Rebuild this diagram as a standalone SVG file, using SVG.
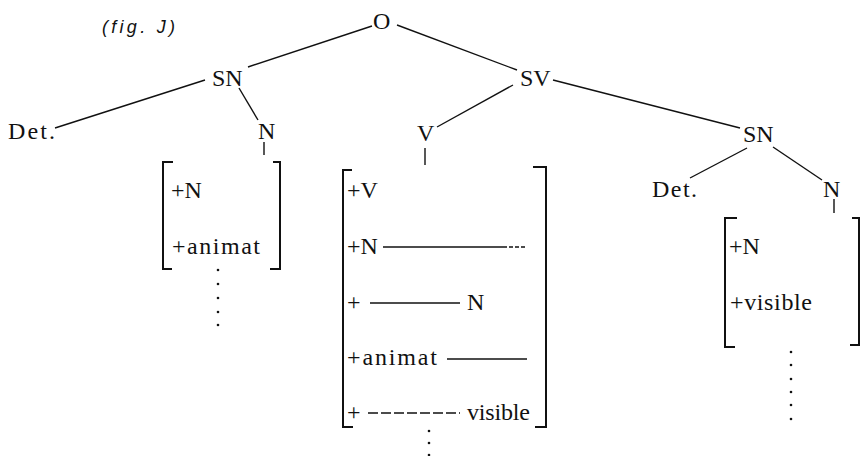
<svg xmlns="http://www.w3.org/2000/svg" width="862" height="456" viewBox="0 0 862 456">
<style>
.t{font-family:"Liberation Serif","Times New Roman","DejaVu Serif",serif;font-size:24px;fill:#111}
.cap{font-family:"Liberation Sans",Arial,sans-serif;font-size:18px;font-style:italic;fill:#111}
.e{stroke:#111;stroke-width:1.4;fill:none}
.br{stroke:#111;stroke-width:2;fill:none}
.r{stroke:#111;stroke-width:1.4;fill:none}
.d{fill:#111}
</style>
<rect width="862" height="456" fill="#fff"/>
<text class="cap" x="102" y="33" textLength="73" lengthAdjust="spacing">(fig. J)</text>
<g id="connectors">
<line class="e" x1="372" y1="26" x2="248" y2="67"/>
<line class="e" x1="205" y1="80" x2="55" y2="128"/>
<line class="e" x1="239" y1="88" x2="258" y2="120"/>
<line class="e" x1="397" y1="25" x2="517" y2="70"/>
<line class="e" x1="513" y1="85" x2="437" y2="127"/>
<line class="e" x1="553" y1="80" x2="740" y2="128"/>
<line class="e" x1="747" y1="148" x2="690" y2="178"/>
<line class="e" x1="773" y1="147" x2="822" y2="180"/>
<line class="e" x1="264" y1="142" x2="264" y2="155"/>
<line class="e" x1="425" y1="148" x2="425" y2="165"/>
<line class="e" x1="834" y1="199" x2="834" y2="213"/>
</g>
<g id="O"><text class="t" font-family="Liberation Serif, serif" x="373" y="29">O</text></g>
<g id="SN1"><text class="t" font-family="Liberation Serif, serif" x="212" y="86">SN</text></g>
<g id="Det1"><text class="t" font-family="Liberation Serif, serif" x="8" y="139" textLength="47" lengthAdjust="spacing">Det.</text></g>
<g id="N1"><text class="t" font-family="Liberation Serif, serif" x="258" y="139">N</text></g>
<g id="SV"><text class="t" font-family="Liberation Serif, serif" x="520" y="86">SV</text></g>
<g id="V"><text class="t" font-family="Liberation Serif, serif" x="417" y="141">V</text></g>
<g id="SN2"><text class="t" font-family="Liberation Serif, serif" x="743" y="142">SN</text></g>
<g id="Det2"><text class="t" font-family="Liberation Serif, serif" x="652" y="197" textLength="45" lengthAdjust="spacing">Det.</text></g>
<g id="N2"><text class="t" font-family="Liberation Serif, serif" x="823" y="197">N</text></g>
<g id="featN1">
<path class="br" d="M173,162 H163 V269 H172"/>
<path class="br" d="M273,162 H280 V269 H270"/>
<text class="t" font-family="Liberation Serif, serif" x="171" y="198">+N</text>
<text class="t" font-family="Liberation Serif, serif" x="172" y="254" textLength="88" lengthAdjust="spacing">+animat</text>
<circle class="d" cx="218" cy="270" r="1.3"/>
<circle class="d" cx="218" cy="284" r="1.3"/>
<circle class="d" cx="218" cy="298" r="1.3"/>
<circle class="d" cx="218" cy="312" r="1.3"/>
<circle class="d" cx="218" cy="325" r="1.3"/>
</g>
<g id="featV">
<path class="br" d="M352,170 H343 V427 H353"/>
<path class="br" d="M533,167 H546 V427 H535"/>
<text class="t" font-family="Liberation Serif, serif" x="347" y="198">+V</text>
<text class="t" font-family="Liberation Serif, serif" x="347" y="254">+N</text>
<line class="r" x1="383" y1="247" x2="507" y2="247"/>
<line class="r" x1="509" y1="247" x2="527" y2="247" stroke-dasharray="4 2"/>
<text class="t" font-family="Liberation Serif, serif" x="347" y="310">+</text>
<line class="r" x1="370" y1="303" x2="460" y2="303"/>
<text class="t" font-family="Liberation Serif, serif" x="467" y="310">N</text>
<text class="t" font-family="Liberation Serif, serif" x="347" y="365" textLength="90" lengthAdjust="spacing">+animat</text>
<line class="r" x1="447" y1="359" x2="527" y2="359"/>
<text class="t" font-family="Liberation Serif, serif" x="347" y="420">+</text>
<line class="r" x1="368" y1="413" x2="460" y2="413" stroke-dasharray="10 3"/>
<text class="t" font-family="Liberation Serif, serif" x="467" y="420" textLength="63" lengthAdjust="spacing">visible</text>
<circle class="d" cx="429" cy="431" r="1.3"/>
<circle class="d" cx="429" cy="443" r="1.3"/>
<circle class="d" cx="429" cy="455" r="1.3"/>
</g>
<g id="featN2">
<path class="br" d="M737,218 H725 V347 H735"/>
<path class="br" d="M852,218 H859 V345 H850"/>
<text class="t" font-family="Liberation Serif, serif" x="729" y="254">+N</text>
<text class="t" font-family="Liberation Serif, serif" x="730" y="310" textLength="82" lengthAdjust="spacing">+visible</text>
<circle class="d" cx="791" cy="352" r="1.3"/>
<circle class="d" cx="791" cy="365" r="1.3"/>
<circle class="d" cx="791" cy="379" r="1.3"/>
<circle class="d" cx="791" cy="392" r="1.3"/>
<circle class="d" cx="791" cy="405" r="1.3"/>
<circle class="d" cx="791" cy="419" r="1.3"/>
</g>
</svg>
